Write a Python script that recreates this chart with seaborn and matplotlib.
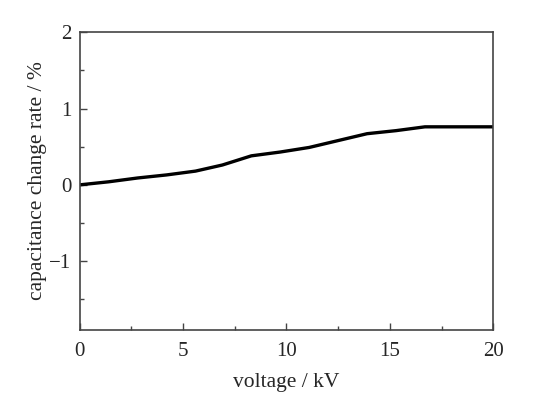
"""
Capacitance change rate vs applied voltage.
"""

import matplotlib
matplotlib.use("Agg")
import matplotlib.pyplot as plt
from matplotlib.ticker import MultipleLocator
import seaborn as sns
import pandas as pd

# Data
voltage_kv = [0, 1.4, 2.8, 4.2, 5.6, 6.9, 8.3, 9.7, 11.1, 12.5, 13.9, 15.3, 16.7, 18.0, 20.0]
change_rate = [0, 0.04, 0.09, 0.13, 0.18, 0.26, 0.38, 0.43, 0.49, 0.58, 0.67, 0.71, 0.76, 0.76, 0.76]

x_ticks = [0, 5, 10, 15, 20]
y_ticks = [-1, 0, 1, 2]

sns.set_theme(style="ticks")
plt.rcParams["font.family"] = ["Liberation Serif", "DejaVu Serif"]

df = pd.DataFrame({"voltage": voltage_kv, "rate": change_rate})

fig = plt.figure(figsize=(5.39, 3.97), dpi=100)
ax = fig.add_axes([0.148, 0.169, 0.767, 0.750])

sns.lineplot(data=df, x="voltage", y="rate", color="black", linewidth=2.4, ax=ax)

ax.set_xlim(0, 20)
ax.set_ylim(-1.9, 2)
ax.set_xticks(x_ticks)
ax.set_yticks(y_ticks)
ax.set_yticklabels(["\u22121", "0", "1", "2"])
ax.xaxis.set_minor_locator(MultipleLocator(2.5))
ax.yaxis.set_minor_locator(MultipleLocator(0.5))

ax.tick_params(axis="both", which="major", direction="in", length=5, width=1,
               color="#444444", labelsize=15, pad=6,
               top=False, right=False)
ax.tick_params(axis="x", which="major", pad=9)
ax.tick_params(axis="both", which="minor", direction="in", length=3, width=1,
               color="#444444", top=False, right=False)

for side in ["top", "right", "bottom", "left"]:
    ax.spines[side].set_visible(True)
    ax.spines[side].set_color("#444444")
    ax.spines[side].set_linewidth(1.2)

ax.set_xlabel("voltage / kV", fontsize=15.5, labelpad=8)
ax.set_ylabel("capacitance change rate / %", fontsize=15.5, labelpad=2)

fig.savefig("out.png", dpi=100)
